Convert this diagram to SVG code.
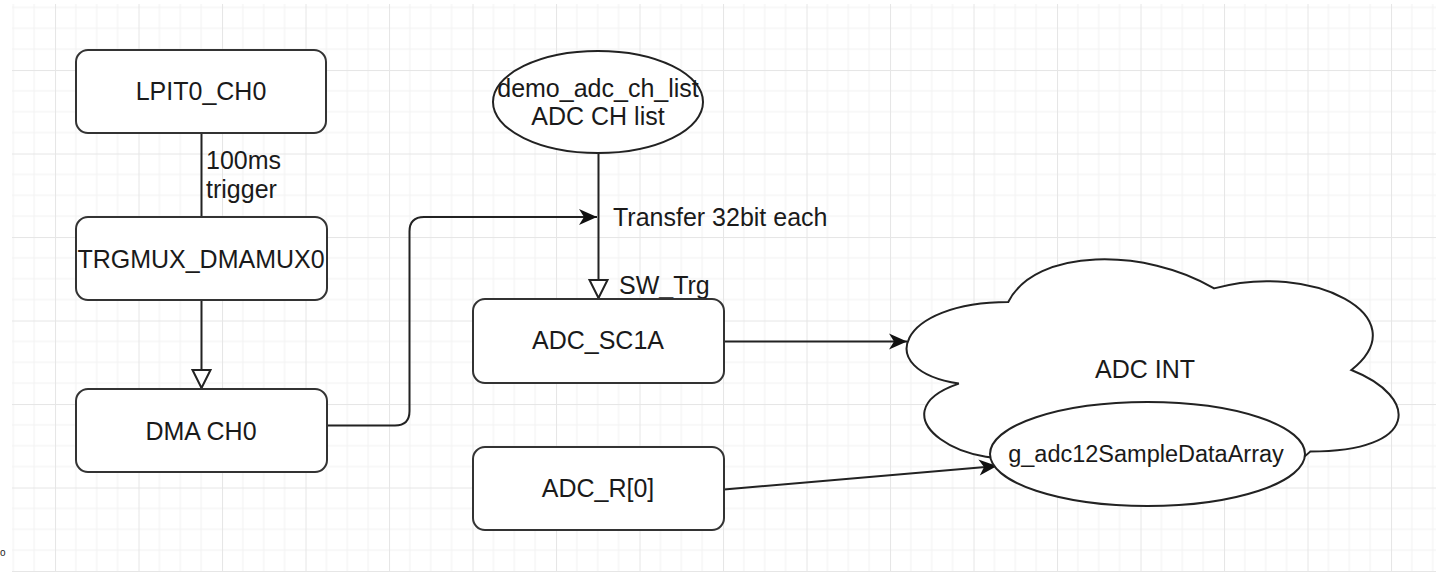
<svg xmlns="http://www.w3.org/2000/svg" width="1436" height="576" viewBox="0 0 1436 576">
<style>
.box{fill:#fff;stroke:#333;stroke-width:2}
.shape{fill:#fff;stroke:#222;stroke-width:2}
.t{font-family:"Liberation Sans",Arial,sans-serif;font-size:25px;fill:#1a1a1a}
.c{text-anchor:middle}
.edge{fill:none;stroke:#222;stroke-width:2}
</style>
<defs>
<pattern id="grid" patternUnits="userSpaceOnUse" x="55" y="70" width="83.5" height="83.5">
<rect x="0" y="0" width="83.5" height="83.5" fill="#fff"/>
<g fill="#f2f2f2">
<rect x="20.375" y="0" width="1" height="83.5"/>
<rect x="41.25" y="0" width="1" height="83.5"/>
<rect x="62.125" y="0" width="1" height="83.5"/>
<rect x="0" y="20.375" width="83.5" height="1"/>
<rect x="0" y="41.25" width="83.5" height="1"/>
<rect x="0" y="62.125" width="83.5" height="1"/>
</g>
<g fill="#e6e6e6">
<rect x="0" y="0" width="1" height="83.5"/>
<rect x="0" y="0" width="83.5" height="1"/>
</g>
</pattern>
<marker id="open" markerUnits="userSpaceOnUse" markerWidth="24" markerHeight="24" refX="19" refY="10" orient="auto" overflow="visible">
<path d="M1,1 L19,10 L1,19 Z" fill="#fff" stroke="#222" stroke-width="2" stroke-linejoin="miter"/>
</marker>
<marker id="classic" markerUnits="userSpaceOnUse" markerWidth="24" markerHeight="24" refX="18" refY="8" orient="auto" overflow="visible">
<path d="M0,0 L18,8 L0,16 L5,8 Z" fill="#111"/>
</marker>
</defs>
<rect x="0" y="0" width="1436" height="576" fill="#fff"/>
<rect x="12" y="4" width="1424" height="568" fill="url(#grid)"/>
<text class="t" x="0" y="556" style="font-size:10px">o</text>

<g id="connectors">
<path class="edge" d="M201.5,133 V217"/>
<path class="edge" d="M201.5,300 V388" marker-end="url(#open)"/>
<path class="edge" d="M598.5,153 V298" marker-end="url(#open)"/>
<path class="edge" d="M327,425.5 H395 Q409.5,425.5 409.5,411 V231.5 Q409.5,217 424,217 H597" marker-end="url(#classic)"/>
<path class="edge" d="M724,341.5 H907" marker-end="url(#classic)"/>
<path class="edge" d="M724,489.5 L997,466" marker-end="url(#classic)"/>
<text class="t" x="206" y="169">100ms</text>
<text class="t" x="206" y="198">trigger</text>
<text class="t" x="613" y="226">Transfer 32bit each</text>
<text class="t" x="619" y="294">SW_Trg</text>
</g>

<g id="lpit">
<rect class="box" x="76" y="50" width="250" height="83" rx="12"/>
<text class="t c" x="201" y="100">LPIT0_CH0</text>
</g>
<g id="trgmux">
<rect class="box" x="76" y="217" width="251" height="83" rx="12"/>
<text class="t c" x="201" y="268">TRGMUX_DMAMUX0</text>
</g>
<g id="dma">
<rect class="box" x="76" y="389" width="251" height="83" rx="12"/>
<text class="t c" x="201" y="440">DMA CH0</text>
</g>
<g id="chlist">
<ellipse class="shape" cx="598" cy="102" rx="105" ry="51"/>
<text class="t c" x="598" y="97">demo_adc_ch_list</text>
<text class="t c" x="598" y="125">ADC CH list</text>
</g>
<g id="sc1a">
<rect class="box" x="473" y="299" width="251" height="84" rx="12"/>
<text class="t c" x="598" y="349">ADC_SC1A</text>
</g>
<g id="adcr">
<rect class="box" x="473" y="447" width="251" height="83" rx="12"/>
<text class="t c" x="598" y="497">ADC_R[0]</text>
</g>
<g id="adcint">
<path class="shape" d="M1008.25,302 C898.45,302 871,370 958.84,383.6 C871,413.52 969.82,478.8 1041.19,451.6 C1090.6,506 1255.3,506 1310.2,451.6 C1420,451.6 1420,397.2 1351.375,370 C1420,315.6 1310.2,261.2 1214.125,288.4 C1145.5,247.6 1035.7,247.6 1008.25,302 Z"/>
<text class="t c" x="1145" y="378">ADC INT</text>
</g>
<g id="samplearray">
<ellipse class="shape" cx="1147.5" cy="454" rx="157.5" ry="52"/>
<text class="t c" x="1146" y="462" style="font-size:23.5px">g_adc12SampleDataArray</text>
</g>
</svg>
